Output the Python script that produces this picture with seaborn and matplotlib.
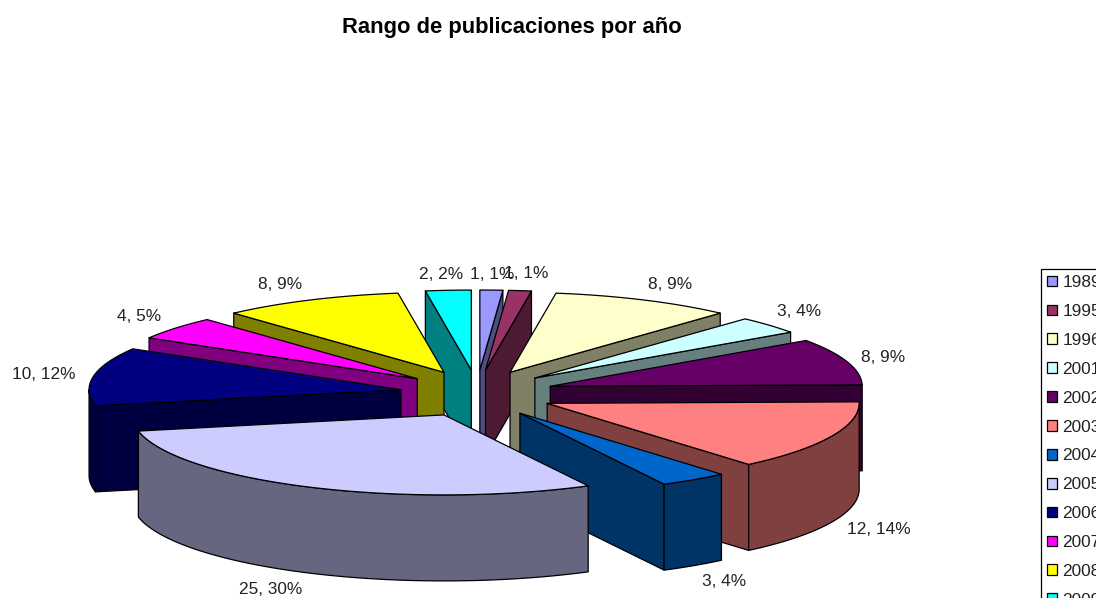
import numpy as np
import matplotlib
matplotlib.use("Agg")
import matplotlib.pyplot as plt
from matplotlib.patches import Patch
import seaborn as sns

years = ["1989", "1995", "1996", "2001", "2002", "2003", "2004", "2005", "2006", "2007", "2008", "2009"]
counts = [1, 1, 8, 3, 8, 12, 3, 25, 10, 4, 8, 2]
percents = [1, 1, 9, 4, 9, 14, 4, 30, 12, 5, 9, 2]
top_hex = ["#9999FF", "#993366", "#FFFFCC", "#CCFFFF", "#660066", "#FF8080",
           "#0066CC", "#CCCCFF", "#000080", "#FF00FF", "#FFFF00", "#00FFFF"]

# pie layout, in pixels of the 1096x598 canvas
cx, cy = 477, 393.6
rx, ry = 312, 80
explode_x, explode_y = 77, 23.6
depth = 86
# label nudge from the rim point at mid angle
label_offsets = [(1, -16), (6, -17), (26, -16), (29.5, -14), (36, -4), (47, 7),
                 (30, 16), (-39, 16), (-50, -2), (-36.5, -12), (-30, -16), (-7, -16)]

sns.set_theme(style="white")
plt.rcParams["font.family"] = ["Liberation Sans", "DejaVu Sans"]
palette = sns.color_palette(top_hex)

fig = plt.figure(figsize=(10.96, 5.98), dpi=100)
ax = fig.add_axes([0, 0, 1, 1])
ax.set_xlim(0, 1096)
ax.set_ylim(598, 0)
ax.axis("off")

edges = np.cumsum([0] + counts) / sum(counts) * 2 * np.pi
line_kw = {"edgecolor": "black", "linewidth": 0.9, "joinstyle": "round"}


def rim(ox, oy, theta):
    return ox + rx * np.sin(theta), oy - ry * np.cos(theta)


# back to front
mids = (edges[:-1] + edges[1:]) / 2
for i in np.argsort(-np.cos(mids)):
    a0, a1, mid = edges[i], edges[i + 1], mids[i]
    ox = cx + explode_x * np.sin(mid)
    oy = cy - explode_y * np.cos(mid)
    top = palette[i]
    side = tuple(c * 0.5 for c in top)

    # cut faces that turn towards the viewer
    for a, visible in ((a0, np.sin(a0) < 0), (a1, np.sin(a1) > 0)):
        if visible:
            ex, ey = rim(ox, oy, a)
            ax.fill([ox, ex, ex, ox], [oy, ey, ey + depth, oy + depth], facecolor=side, **line_kw)

    # outer wall, front half only
    lo, hi = max(a0, np.pi / 2), min(a1, 3 * np.pi / 2)
    if hi > lo:
        t = np.linspace(lo, hi, 60)
        wx, wy = rim(ox, oy, t)
        ax.fill(np.r_[wx, wx[::-1]], np.r_[wy, wy[::-1] + depth], facecolor=side, **line_kw)

    t = np.linspace(a0, a1, 60)
    wx, wy = rim(ox, oy, t)
    ax.fill(np.r_[ox, wx], np.r_[oy, wy], facecolor=top, **line_kw)

    lx, ly = rim(ox, oy, mid)
    if np.cos(mid) < 0:
        ly += depth
    dx, dy = label_offsets[i]
    ax.text(lx + dx, ly + dy, f"{counts[i]}, {percents[i]}%", ha="center", va="center",
            fontsize=12.4, color="#222222")

fig.text(512 / 1096, 1 - 27 / 598, "Rango de publicaciones por año", ha="center", va="center",
         fontsize=15.8, fontweight="bold", color="black")

handles = [Patch(facecolor=c, edgecolor="black", linewidth=0.9, label=y) for c, y in zip(palette, years)]
leg = ax.legend(handles=handles, loc="upper left", bbox_to_anchor=(1041 / 1096, 1 - 269 / 598),
                bbox_transform=fig.transFigure, fontsize=12.4, frameon=True, fancybox=False,
                edgecolor="black", framealpha=1, borderaxespad=0, borderpad=0.36,
                handlelength=0.58, handleheight=0.58, handletextpad=0.3, labelspacing=0.805,
                labelcolor="#222222")
leg.get_frame().set_linewidth(0.9)

fig.savefig("out.png", dpi=100, facecolor="white")
